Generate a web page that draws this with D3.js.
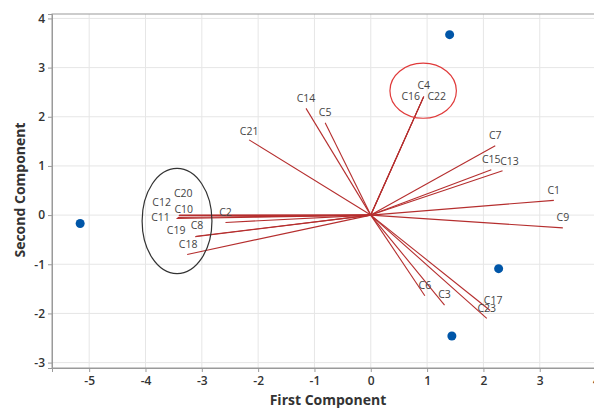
<!DOCTYPE html>
<html>
<head>
<meta charset="utf-8">
<script src="https://cdn.jsdelivr.net/npm/d3@7"></script>
<style>
  body { margin: 0; background: #fff; }
  svg { display: block; font-family: "Open Sans", "Noto Sans", sans-serif; }
</style>
</head>
<body>
<div id="chart"></div>
<script>
// scores (observations)
const scoreX = [-5.16, 1.40, 2.27, 1.44];
const scoreY = [-0.17, 3.67, -1.09, -2.46];

// loadings (variables)
const varNames = ["C14", "C5", "C4", "C16", "C22", "C21", "C7", "C15", "C13", "C1", "C9",
  "C6", "C3", "C17", "C23", "C20", "C10", "C12", "C11", "C2", "C8", "C19", "C18"];
const loadX = [-1.15, -0.81, 0.94, 0.94, 0.94, -2.16, 2.21, 2.14, 2.34, 3.25, 3.41,
  0.96, 1.31, 2.12, 2.06, -3.40, -3.41, -3.43, -3.45, -2.58, -3.12, -3.10, -3.26];
const loadY = [2.17, 1.88, 2.41, 2.41, 2.41, 1.53, 1.41, 0.92, 0.90, 0.30, -0.26,
  -1.64, -1.83, -1.94, -2.10, 0.00, -0.01, -0.05, -0.07, -0.15, -0.44, -0.43, -0.80];

const xTicks = [-5, -4, -3, -2, -1, 0, 1, 2, 3, 4];
const yTicks = [-3, -2, -1, 0, 1, 2, 3, 4];

// label nudges (px) where labels don't sit just above the arrow end
const labelNudge = {
  C4: [0, -11], C16: [-13, 0], C22: [13, 0], C13: [7, -10], C17: [3, -10],
  C20: [4, -22], C10: [5, -6], C12: [-16, -15], C11: [-16, -1],
  C19: [-20, -6], C8: [2, -11], C18: [1, -10], C21: [0, -9]
};

const W = 594, H = 408;
const m = { left: 52, top: 14, right: 600, bottom: 368 };

const x = d3.scaleLinear().domain([-5.66, 4.07]).range([m.left, m.right]);
const y = d3.scaleLinear().domain([-3.11, 4.09]).range([m.bottom, m.top]);

const svg = d3.select("#chart").append("svg")
  .attr("width", W).attr("height", H);

svg.append("rect").attr("width", W).attr("height", H).attr("fill", "#fff");

// grid
svg.append("g").selectAll("line").data(xTicks).join("line")
  .attr("x1", d => x(d)).attr("x2", d => x(d))
  .attr("y1", m.top).attr("y2", m.bottom)
  .attr("stroke", "#e6e6e6");
svg.append("g").selectAll("line").data(yTicks).join("line")
  .attr("x1", m.left).attr("x2", m.right)
  .attr("y1", d => y(d)).attr("y2", d => y(d))
  .attr("stroke", "#e6e6e6");

// frame
svg.append("rect")
  .attr("x", m.left).attr("y", m.top)
  .attr("width", m.right - m.left).attr("height", m.bottom - m.top)
  .attr("fill", "none").attr("stroke", "#9a9a9a");

// axes
const xAxis = svg.append("g")
  .attr("transform", `translate(0,${m.bottom})`)
  .call(d3.axisBottom(x).tickValues(xTicks).tickSize(4).tickPadding(4));
const yAxis = svg.append("g")
  .attr("transform", `translate(${m.left},0)`)
  .call(d3.axisLeft(y).tickValues(yTicks).tickSize(4).tickPadding(3));
[xAxis, yAxis].forEach(a => {
  a.select(".domain").attr("stroke", "#9a9a9a");
  a.selectAll(".tick line").attr("stroke", "#9a9a9a");
  a.selectAll(".tick text")
    .attr("font-size", 12).attr("fill", "#333").attr("font-weight", 600)
    .attr("font-family", "'Open Sans', sans-serif");
});
xAxis.selectAll(".tick text").text(d => d < 0 ? "-" + Math.abs(d) : d);
yAxis.selectAll(".tick text").text(d => d < 0 ? "-" + Math.abs(d) : d);

// loading lines
const loads = varNames.map((n, i) => ({ name: n, x: loadX[i], y: loadY[i] }));
svg.append("g").selectAll("line").data(loads).join("line")
  .attr("x1", x(0)).attr("y1", y(0))
  .attr("x2", d => x(d.x)).attr("y2", d => y(d.y))
  .attr("stroke", "#b52e2e").attr("stroke-width", 1.1);

svg.append("g").selectAll("text").data(loads).join("text")
  .attr("x", d => x(d.x) + (labelNudge[d.name] ? labelNudge[d.name][0] : 0))
  .attr("y", d => y(d.y) + (labelNudge[d.name] ? labelNudge[d.name][1] : -10.5))
  .attr("dy", "0.35em")
  .attr("text-anchor", "middle")
  .attr("font-size", 10.5).attr("fill", "#444")
  .text(d => d.name);

// annotation ellipses
svg.append("ellipse")
  .attr("cx", x(-3.44)).attr("cy", y(-0.12))
  .attr("rx", x(0.62) - x(0)).attr("ry", y(0) - y(1.07))
  .attr("fill", "none").attr("stroke", "#333").attr("stroke-width", 1.2);
svg.append("ellipse")
  .attr("cx", x(0.93)).attr("cy", y(2.53))
  .attr("rx", x(0.59) - x(0)).attr("ry", y(0) - y(0.56))
  .attr("fill", "none").attr("stroke", "#e03a3a").attr("stroke-width", 1.2);

// score points
const scores = scoreX.map((v, i) => ({ x: v, y: scoreY[i] }));
svg.append("g").selectAll("circle").data(scores).join("circle")
  .attr("cx", d => x(d.x)).attr("cy", d => y(d.y)).attr("r", 4.5)
  .attr("fill", "#0056a8");

// axis titles
svg.append("text")
  .attr("x", 328).attr("y", 400).attr("dy", "0.35em")
  .attr("text-anchor", "middle")
  .attr("font-size", 14).attr("font-weight", 700).attr("fill", "#333")
  .text("First Component");
svg.append("text")
  .attr("transform", "translate(20,190) rotate(-90)")
  .attr("dy", "0.35em")
  .attr("text-anchor", "middle")
  .attr("font-size", 14).attr("font-weight", 700).attr("fill", "#333")
  .text("Second Component");
</script>
</body>
</html>
